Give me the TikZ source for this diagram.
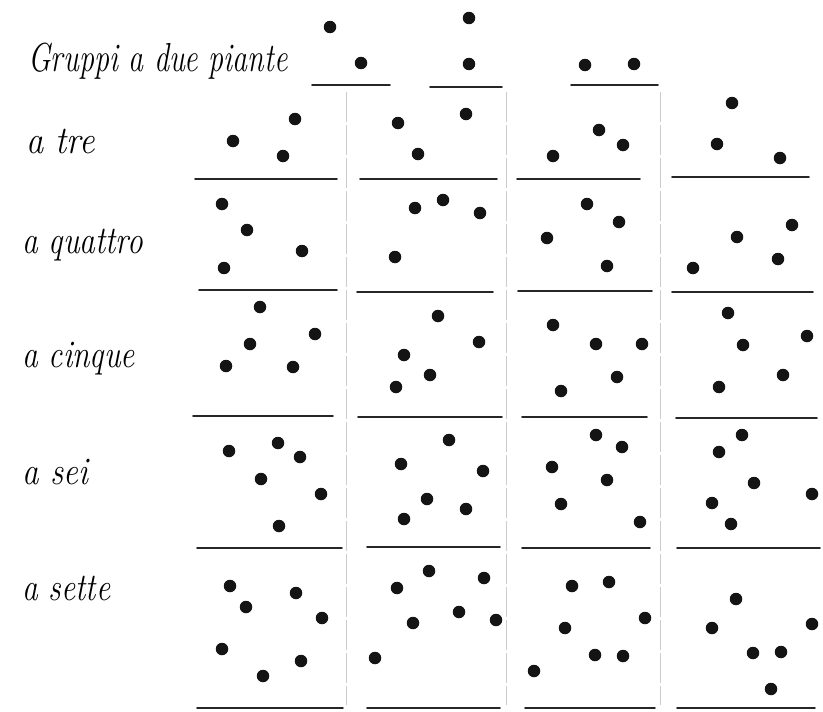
\documentclass[tikz,border=0pt]{standalone}
\begin{document}
\begin{tikzpicture}[x=1pt,y=-1pt,
  dot/.style={circle,fill=black!92,draw=none,inner sep=0pt,minimum size=12.5pt},
  bar/.style={line width=1.8pt,black!85,line cap=round},
  sep/.style={line width=0.5pt,black!20,dash pattern=on 30pt off 3pt},
  lbl/.style={anchor=base west,inner sep=0pt,font=\fontsize{30}{36}\selectfont\itshape}]
\useasboundingbox[fill=white] (0,0) rectangle (823,712);
% separators
\foreach \n/\x in {s1/346,s2/506,s3/660}{
  \coordinate (\n t) at (\x,92);
  \coordinate (\n b) at (\x,705);
  \draw[sep] (\n t) -- (\n b);
}
% labels
\node[lbl] (l2) at (28,71) {\scalebox{1}[1.35]{Gruppi a due piante}};
\node[lbl] (l3) at (26,153) {\scalebox{1.15}[1.3]{a tre}};
\node[lbl] (l4) at (22,253) {\scalebox{1.05}[1.3]{a quattro}};
\node[lbl] (l5) at (22,367) {\scalebox{1.05}[1.3]{a cinque}};
\node[lbl] (l6) at (22,484) {\scalebox{1.1}[1.3]{a sei}};
\node[lbl] (l7) at (22,600) {\scalebox{1.05}[1.3]{a sette}};
% bars
\foreach \y/\a/\b in {85/312/390, 87/430/502, 85/571/658,
  179/195/337, 179/360/497, 179/517/640, 177/672/809,
  290/199/337, 292/357/493, 291/518/652, 292/672/813,
  416/193/333, 417/358/502, 417/522/647, 418/676/817,
  548/197/342, 547/367/500, 548/522/650, 548/677/820,
  708/197/343, 708/367/500, 708/525/655, 708/677/815}
  \draw[bar] (\a,\y) -- (\b,\y);
% dots
\foreach \n/\x/\y in {
  a1/330/27, a2/361/63, b1/469/18, b2/469/64, c1/585/65, c2/634/64,
  t11/233/141, t12/295/119, t13/283/156,
  t21/398/123, t22/418/154, t23/466/114,
  t31/553/156, t32/599/130, t33/623/145,
  t41/732/103, t42/717/144, t43/780/158,
  q11/222/204, q12/247/230, q13/302/251, q14/224/268,
  q21/415/208, q22/443/200, q23/480/213, q24/395/257,
  q31/587/204, q32/619/222, q33/547/238, q34/607/266,
  q41/792/225, q42/737/237, q43/778/259, q44/693/268,
  c11/260/307, c12/250/344, c13/315/334, c14/226/366, c15/293/367,
  c21/438/316, c22/479/342, c23/404/355, c24/430/375, c25/396/387,
  c31/553/325, c32/596/344, c33/642/344, c34/617/377, c35/561/391,
  c41/728/313, c42/743/345, c43/807/336, c44/783/375, c45/719/387,
  s11/229/451, s12/278/443, s13/300/457, s14/261/479, s15/321/494, s16/279/526,
  s21/449/440, s22/401/464, s23/483/471, s24/427/499, s25/466/509, s26/404/519,
  s31/596/435, s32/622/447, s33/552/467, s34/607/480, s35/561/504, s36/640/522,
  s41/742/435, s42/719/452, s43/754/483, s44/812/494, s45/712/503, s46/731/524,
  e11/230/586, e12/246/607, e13/296/593, e14/322/618, e15/222/649, e16/301/661, e17/263/676,
  e21/397/588, e22/429/571, e23/484/578, e24/413/623, e25/459/612, e26/496/620, e27/375/658,
  e31/572/586, e32/609/582, e33/645/618, e34/565/628, e35/595/655, e36/623/656, e37/534/671,
  e41/736/599, e42/712/628, e43/812/624, e44/753/653, e45/781/652, e46/771/689}
  \node[dot] (\n) at (\x,\y) {};
\end{tikzpicture}
\end{document}
